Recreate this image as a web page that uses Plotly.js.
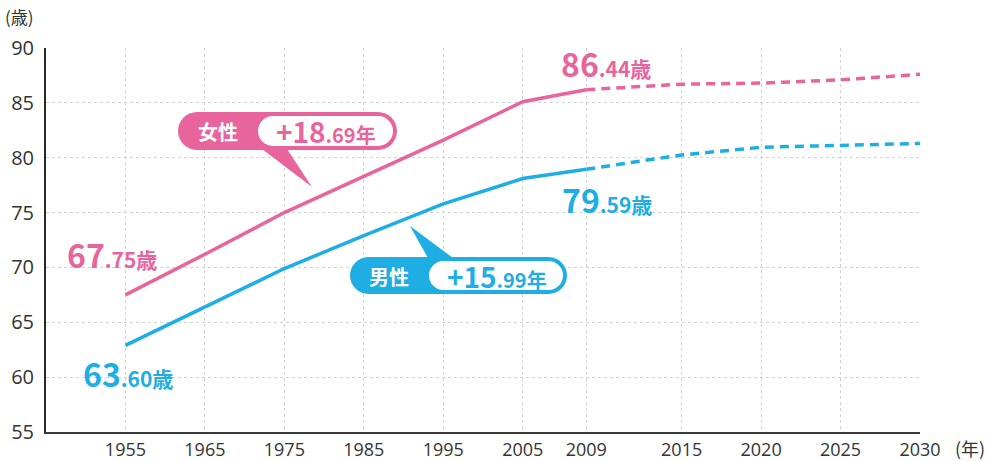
<!DOCTYPE html>
<html>
<head>
<meta charset="utf-8">
<script src="https://cdn.plot.ly/plotly-3.0.1.min.js"></script>
<style>html,body{margin:0;padding:0;background:#fff;}#chart{width:988px;height:461px;}</style>
</head>
<body>
<div id="chart"></div>
<script>
// ---- data ----
var years = [1955, 1965, 1975, 1985, 1995, 2005, 2009];
var femaleActual = [67.5, 71.2, 75.0, 78.3, 81.6, 85.1, 86.2];
var maleActual = [62.9, 66.4, 69.9, 72.9, 75.8, 78.1, 78.95];
var projYears = [2009, 2015, 2020, 2025, 2030];
var femaleProj = [86.2, 86.7, 86.8, 87.1, 87.6];
var maleProj = [78.95, 80.25, 80.95, 81.1, 81.3];
var tickYears = [1955, 1965, 1975, 1985, 1995, 2005, 2009, 2015, 2020, 2025, 2030];
var yTicks = [55, 60, 65, 70, 75, 80, 85, 90];

// axis scale: 10-year steps up to 2005, 5-year steps after
function pos(y) { return y <= 2005 ? (y - 1955) / 10 : 5 + (y - 2005) / 5; }

var PINK = '#e8649c', BLUE = '#1eaee4';
var FONT = '"Noto Sans CJK JP", "Noto Sans", sans-serif';

// pixel -> paper helpers for decorations
var L = 46, T = 48, W = 874, H = 384;
function fx(X) { return (X - L) / W; }
function fy(Y) { return (T + H - Y) / H; }
function pt(X, Y) { return fx(X).toFixed(5) + ',' + fy(Y).toFixed(5); }
function pill(x0, y0, x1, y1) {
  var r = (y1 - y0) / 2, k = 0.5523 * r, ym = (y0 + y1) / 2;
  return 'M' + pt(x0 + r, y0) + ' L' + pt(x1 - r, y0) +
    ' C' + pt(x1 - r + k, y0) + ' ' + pt(x1, ym - k) + ' ' + pt(x1, ym) +
    ' C' + pt(x1, ym + k) + ' ' + pt(x1 - r + k, y1) + ' ' + pt(x1 - r, y1) +
    ' L' + pt(x0 + r, y1) +
    ' C' + pt(x0 + r - k, y1) + ' ' + pt(x0, ym + k) + ' ' + pt(x0, ym) +
    ' C' + pt(x0, ym - k) + ' ' + pt(x0 + r - k, y0) + ' ' + pt(x0 + r, y0) + ' Z';
}
function tri(a, b, c) { return 'M' + pt(a[0], a[1]) + ' L' + pt(b[0], b[1]) + ' L' + pt(c[0], c[1]) + ' Z'; }

var traces = [
  {x: years.map(pos), y: femaleActual, mode: 'lines', line: {color: PINK, width: 3.5}, hoverinfo: 'skip'},
  {x: projYears.map(pos), y: femaleProj, mode: 'lines', line: {color: PINK, width: 3.5, dash: '9px,6px'}, hoverinfo: 'skip'},
  {x: years.map(pos), y: maleActual, mode: 'lines', line: {color: BLUE, width: 3.5}, hoverinfo: 'skip'},
  {x: projYears.map(pos), y: maleProj, mode: 'lines', line: {color: BLUE, width: 3.5, dash: '9px,6px'}, hoverinfo: 'skip'}
];

function big(a, b, s1, s2) {
  return '<b><span style="font-size:' + s1 + 'px">' + a + '</span><span style="font-size:' + s2 + 'px">' + b + '</span></b>';
}

var shapes = [
  {type: 'path', xref: 'paper', yref: 'paper', path: tri([262, 149], [287, 149], [312, 187]), fillcolor: PINK, line: {width: 0}},
  {type: 'path', xref: 'paper', yref: 'paper', path: pill(178, 112, 397, 150), fillcolor: PINK, line: {width: 0}},
  {type: 'path', xref: 'paper', yref: 'paper', path: pill(257, 115, 394, 147), fillcolor: '#ffffff', line: {color: PINK, width: 2}},
  {type: 'path', xref: 'paper', yref: 'paper', path: tri([428, 258], [453, 258], [410, 226]), fillcolor: BLUE, line: {width: 0}},
  {type: 'path', xref: 'paper', yref: 'paper', path: pill(350, 257, 567, 294), fillcolor: BLUE, line: {width: 0}},
  {type: 'path', xref: 'paper', yref: 'paper', path: pill(428, 260, 564, 291), fillcolor: '#ffffff', line: {color: BLUE, width: 2}}
];

function ann(X, Y, text, color, size, xa) {
  return {xref: 'paper', yref: 'paper', x: fx(X), y: fy(Y), text: text, showarrow: false,
    xanchor: xa || 'center', yanchor: 'middle', font: {family: FONT, color: color, size: size || 16}};
}

var annotations = [
  ann(3, 16, '(歳)', '#333', 17, 'left'),
  ann(953, 448, '(年)', '#333', 18, 'left'),
  ann(112, 254, big('67', '.75歳', 32, 21), PINK),
  ann(128, 373, big('63', '.60歳', 32, 21), BLUE),
  ann(606, 63, big('86', '.44歳', 32, 21), PINK),
  ann(607, 199, big('79', '.59歳', 32, 21), BLUE),
  ann(218, 131, '<b>女性</b>', '#ffffff', 20),
  ann(326, 131, big('+18', '.69年', 28, 20), PINK),
  ann(389, 276, '<b>男性</b>', '#ffffff', 20),
  ann(497, 276, big('+15', '.99年', 28, 20), BLUE)
];

var layout = {
  width: 988, height: 461,
  margin: {l: L, r: 988 - L - W, t: T, b: 461 - T - H},
  paper_bgcolor: '#ffffff', plot_bgcolor: '#ffffff',
  showlegend: false,
  xaxis: {
    range: [-1, 10], tickvals: tickYears.map(pos), ticktext: tickYears.map(String),
    showgrid: true, gridcolor: '#d2d2d2', griddash: 'dot', gridwidth: 1,
    zeroline: false, showline: true, linecolor: '#3a3a3a', linewidth: 2,
    ticks: '', ticklabelstandoff: 0, tickfont: {family: '"Open Sans", sans-serif', size: 18, color: '#333'},
    fixedrange: true
  },
  yaxis: {
    range: [55, 90], tickvals: yTicks,
    showgrid: true, gridcolor: '#d2d2d2', griddash: 'dot', gridwidth: 1,
    zeroline: false, showline: true, linecolor: '#2a2a2a', linewidth: 2,
    ticks: '', ticklabelstandoff: 6, tickfont: {family: '"Open Sans", sans-serif', size: 20, color: '#333'},
    fixedrange: true
  },
  shapes: shapes,
  annotations: annotations
};

Plotly.newPlot('chart', traces, layout, {displayModeBar: false, staticPlot: true});
</script>
</body>
</html>
